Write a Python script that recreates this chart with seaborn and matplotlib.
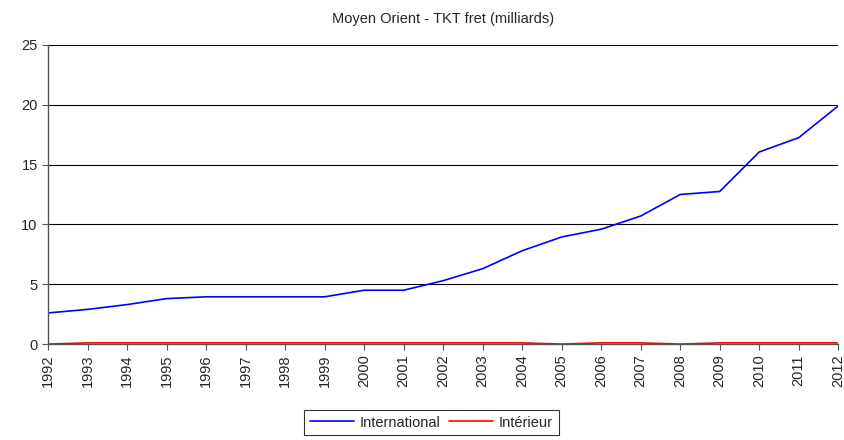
import pandas as pd
import seaborn as sns
import matplotlib.pyplot as plt

# Données
years = list(range(1992, 2013))
international = [2.6, 2.9, 3.3, 3.8, 3.95, 3.95, 3.95, 3.95, 4.5, 4.5, 5.3,
                 6.3, 7.8, 8.95, 9.6, 10.7, 12.5, 12.75, 16.05, 17.25, 19.9]
interieur = [0.0, 0.1, 0.1, 0.1, 0.1, 0.1, 0.1, 0.1, 0.1, 0.1, 0.1,
             0.1, 0.1, 0.0, 0.1, 0.1, 0.0, 0.1, 0.1, 0.1, 0.1]

df = pd.DataFrame({"Année": years, "International": international, "Intérieur": interieur})
df = df.melt(id_vars="Année", var_name="Série", value_name="TKT")

sns.set_style("white")
plt.rcParams["font.family"] = ["Liberation Sans", "DejaVu Sans"]

fig = plt.figure(figsize=(8.45, 4.4), dpi=100)
ax = fig.add_axes([0.057, 0.218, 0.935, 0.68])

sns.lineplot(data=df, x="Année", y="TKT", hue="Série",
             palette={"International": "#0000ff", "Intérieur": "#ff0000"},
             linewidth=1.2, ax=ax, legend=True)

ax.set_xlim(1992, 2012)
ax.set_ylim(0, 25)
ax.set_xticks(years)
ax.set_xticklabels([str(y) for y in years], rotation=90, fontsize=10.5)
ax.set_yticks(range(0, 26, 5))
ax.tick_params(axis="y", labelsize=10.5, length=4, direction="out", color="#555555", left=True)
ax.tick_params(axis="x", length=4, direction="out", color="#555555", bottom=True)
ax.yaxis.grid(True, color="black", linewidth=0.8)
ax.set_axisbelow(True)
for side in ["top", "right"]:
    ax.spines[side].set_visible(False)
for side in ["left", "bottom"]:
    ax.spines[side].set_color("#555555")
    ax.spines[side].set_linewidth(1)
ax.set_xlabel("")
ax.set_ylabel("")
ax.set_title("Moyen Orient - TKT fret (milliards)", fontsize=10.5, pad=16)

leg = ax.legend(loc="upper center", bbox_to_anchor=(0.485, -0.195), ncol=2,
                frameon=True, fancybox=False, fontsize=10.5, handlelength=3.0,
                borderpad=0.4, columnspacing=0.6, handletextpad=0.4)
leg.get_frame().set_edgecolor("black")
leg.get_frame().set_linewidth(0.8)

fig.savefig("out.png", dpi=100)
